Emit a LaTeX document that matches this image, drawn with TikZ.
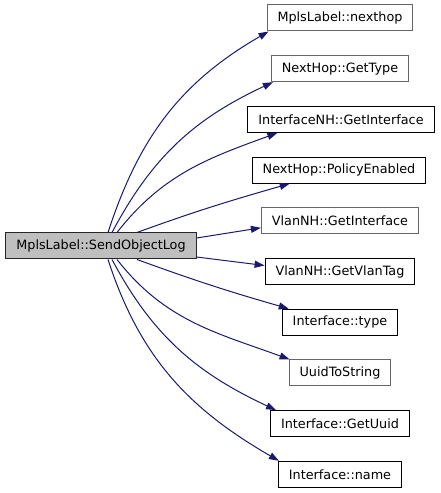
\documentclass[tikz,border=0pt]{standalone}
\usepackage{fontspec}
\setmainfont{DejaVu Sans}
\usetikzlibrary{arrows.meta}
\definecolor{callblue}{HTML}{191970}
\definecolor{boxgray}{HTML}{666666}
\definecolor{mainfill}{HTML}{BFBFBF}

\begin{document}
\begin{tikzpicture}[x=1pt, y=1pt, font=\fontsize{12.8}{15}\selectfont,
	fn/.style={draw=black, fill=white, line width=1pt, minimum height=26pt, inner xsep=10.5pt, inner ysep=0pt},
	fnext/.style={fn, draw=boxgray},
	call/.style={draw=callblue, line width=1pt, -{Triangle[length=10pt,width=7pt]}}]
			\useasboundingbox (0,0) rectangle (440,493);
			% caller
			\node[fn, fill=mainfill, draw=black!85] (main) at (101,247) {MplsLabel::SendObjectLog};
			% callees
			\node[fnext] (nexthop) at (340,475) {MplsLabel::nexthop};
			\node[fnext] (gettype) at (340,424.3) {NextHop::GetType};
			\node[fn] (nhiface) at (341,373.6) {InterfaceNH::GetInterface};
			\node[fn] (policy) at (339,322.9) {NextHop::PolicyEnabled};
			\node[fnext] (vlaniface) at (340,272.2) {VlanNH::GetInterface};
			\node[fn] (vlantag) at (340,221.5) {VlanNH::GetVlanTag};
			\node[fn] (itype) at (340,170.8) {Interface::type};
			\node[fnext] (uuidstr) at (340,120.1) {UuidToString};
			\node[fn] (getuuid) at (340,69.4) {Interface::GetUuid};
			\node[fn] (iname) at (340,18.7) {Interface::name};
			% calls
			\draw[call] ([xshift=7pt]main.north) to[out=72, in=210] ([xshift=2pt]nexthop.south west);
			\draw[call] ([xshift=11pt]main.north) to[out=62, in=205] ([xshift=2pt]gettype.south west);
			\draw[call] ([xshift=16pt]main.north) to[out=52, in=200] ([xshift=30pt]nhiface.south west);
			\draw[call] ([xshift=36pt]main.north) to[out=20, in=196] ([xshift=38pt]policy.south west);
			\draw[call] ([yshift=8pt]main.east) -- ([yshift=-7pt]vlaniface.west);
			\draw[call] ([yshift=-11pt]main.east) -- ([yshift=6pt]vlantag.west);
			\draw[call] ([xshift=36pt]main.south) to[out=-20, in=164] ([xshift=7pt]itype.north west);
			\draw[call] ([xshift=16pt]main.south) to[out=-52, in=160] ([xshift=1pt]uuidstr.north west);
			\draw[call] ([xshift=11pt]main.south) to[out=-62, in=155] ([xshift=6pt]getuuid.north west);
			\draw[call] ([xshift=7pt]main.south) to[out=-72, in=150] ([xshift=1pt]iname.north west);
		\end{tikzpicture}
\end{document}
